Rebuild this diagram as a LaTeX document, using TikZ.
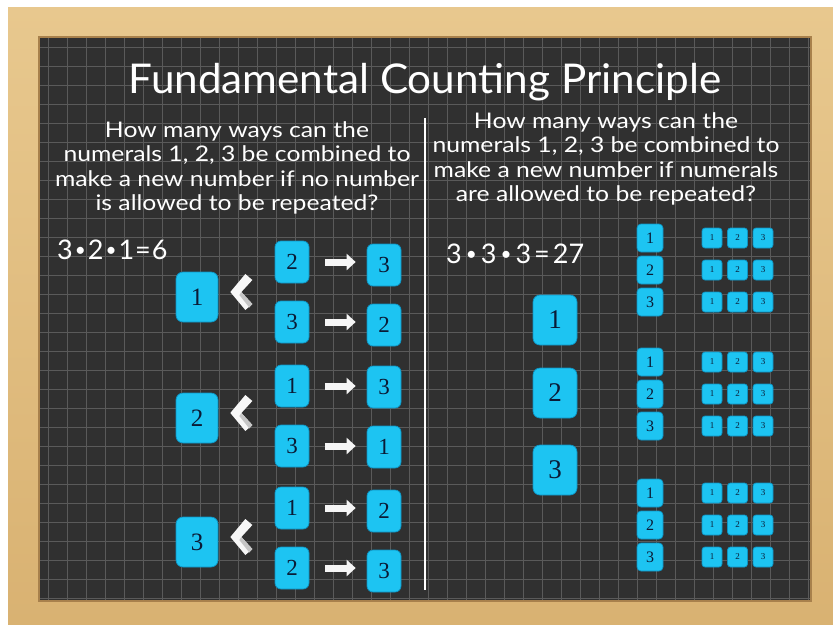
\documentclass[tikz,border=0pt]{standalone}
\usepackage{fontspec}
\newfontfamily\chalk{Lato}
\newfontfamily\qfont[FakeStretch=1.15]{Lato}
\newfontfamily\tfont[FakeStretch=1.03]{Lato}
\newfontfamily\digitfont{Liberation Serif}
\newcommand{\smalldot}{\raisebox{3pt}{\fontsize{19}{19}\selectfont •}}
\usetikzlibrary{arrows.meta,calc}
\definecolor{woodA}{HTML}{E8C88E}
\definecolor{woodB}{HTML}{D9B272}
\definecolor{woodE}{HTML}{A8814C}
\definecolor{board}{HTML}{303030}
\definecolor{gridc}{HTML}{5A5A5A}
\definecolor{boxc}{HTML}{1DC4F2}
\definecolor{boxe}{HTML}{0E93C2}
\definecolor{digit}{HTML}{0A1B36}
\tikzset{
  tile/.style={fill=boxc, draw=boxe, line width=0.7pt, inner sep=0pt, text=digit},
  bigtile/.style={tile, minimum width=42, minimum height=50, rounded corners=7pt, font=\digitfont\fontsize{25}{25}\selectfont},
  midtile/.style={tile, minimum width=34, minimum height=42, rounded corners=6pt, font=\digitfont\fontsize{23}{23}\selectfont},
  rbigtile/.style={tile, minimum width=44, minimum height=50, rounded corners=7pt, font=\digitfont\fontsize{27}{27}\selectfont},
  medtile/.style={tile, minimum width=26, minimum height=28, rounded corners=4pt, font=\digitfont\fontsize{16}{16}\selectfont},
  smalltile/.style={tile, minimum width=20, minimum height=20, rounded corners=3pt, font=\digitfont\fontsize{9}{9}\selectfont},
  rarrow/.style={draw=white!92!gray, line width=7pt, -{Triangle[length=9pt,width=16pt]}, shorten <=16pt, shorten >=11pt},
  chalktext/.style={text=white, inner sep=0pt, font=\qfont\fontsize{21.5}{24.5}\selectfont, align=center},
  eqtext/.style={text=white, inner sep=0pt, font=\chalk\fontsize{27}{27}\selectfont},
  gridline/.style={draw=gridc, line width=0.6pt},
  chev/.pic={\fill[white!94!gray] (0,0) -- (15,-18) -- (22,-12) -- (11,0) -- (22,12) -- (15,18) -- cycle;
             \fill[gray!45] (11,0) -- (22,12) -- (19,15.5) -- (9,3) -- cycle;}
}
\begin{document}
\begin{tikzpicture}[x=1pt,y=-1pt]
\useasboundingbox (0,0) rectangle (833,627);
\fill[white] (0,0) rectangle (833,627);
% wood frame
\shade[top color=woodA, bottom color=woodB] (8,7) rectangle (833,624);
\fill[woodE] (38,36) rectangle (812,602);
\fill[board] (40,38) rectangle (810,600);
% grid
\begin{scope}
\clip (40,38) rectangle (810,600);
\foreach \x in {48,67,...,810} \draw[gridline] (\x,38) -- (\x,600);
\foreach \y in {47,66,...,600} \draw[gridline] (40,\y) -- (810,\y);
\end{scope}
% title
\node[text=white, inner sep=0pt, anchor=base, font=\tfont\fontsize{41}{41}\selectfont] (title) at (425,93) {Fundamental Counting Principle};
% divider
\coordinate (dtop) at (425,118);
\coordinate (dbot) at (425,590);
\draw[white, line width=1.3pt] (dtop) -- (dbot);
% questions
\node[chalktext, anchor=north] (qleft) at (237,121) {How many ways can the\\numerals 1, 2, 3 be combined to\\make a new number if no number\\is allowed to be repeated?};
\node[chalktext, anchor=north] (qright) at (606,112) {How many ways can the\\numerals 1, 2, 3 be combined to\\make a new number if numerals\\are allowed to be repeated?};
% equations
\node[eqtext, anchor=base west] (eqleft) at (57,259) {3\kern2pt\smalldot\kern2pt2\kern2pt\smalldot\kern2pt1\kern1pt=\kern1pt6};
\node[eqtext, anchor=base west] (eqright) at (446,263) {3\kern4pt\smalldot\kern4pt3\kern4pt\smalldot\kern4pt3\kern3pt=\kern3pt27};
% left tree
\node[bigtile] (b1) at (197,297) {1};
\node[bigtile] (b2) at (197,418) {2};
\node[bigtile] (b3) at (197,542) {3};
\node[midtile] (c1) at (292,262) {2};
\node[midtile] (c2) at (292,322) {3};
\node[midtile] (c3) at (292,386) {1};
\node[midtile] (c4) at (292,446) {3};
\node[midtile] (c5) at (292,508) {1};
\node[midtile] (c6) at (292,568) {2};
\node[midtile] (d1) at (384,265) {3};
\node[midtile] (d2) at (384,325) {2};
\node[midtile] (d3) at (384,387) {3};
\node[midtile] (d4) at (384,447) {1};
\node[midtile] (d5) at (384,511) {2};
\node[midtile] (d6) at (384,571) {3};
\foreach \b in {b1,b2,b3} \pic at ($(\b.east)+(12,-5)$) {chev};
\foreach \c/\d in {c1/d1,c2/d2,c3/d3,c4/d4,c5/d5,c6/d6}
  \draw[rarrow] (\c.east) -- (\c.east -| \d.west);
% right side
\node[rbigtile] (r1) at (555,320) {1};
\node[rbigtile] (r2) at (555,393) {2};
\node[rbigtile] (r3) at (555,470) {3};
\foreach \g/\ya/\yb/\yc in {1/238/270/302, 2/362/394/426, 3/493/525/557} {
  \foreach \r/\yy in {1/\ya, 2/\yb, 3/\yc} {
    \node[medtile] (m\g\r) at (650,\yy) {\r};
    \node[smalltile] (s\g\r a) at (712,\yy) {1};
    \node[smalltile] (s\g\r b) at (737.5,\yy) {2};
    \node[smalltile] (s\g\r c) at (763,\yy) {3};
  }
}
\end{tikzpicture}
\end{document}
